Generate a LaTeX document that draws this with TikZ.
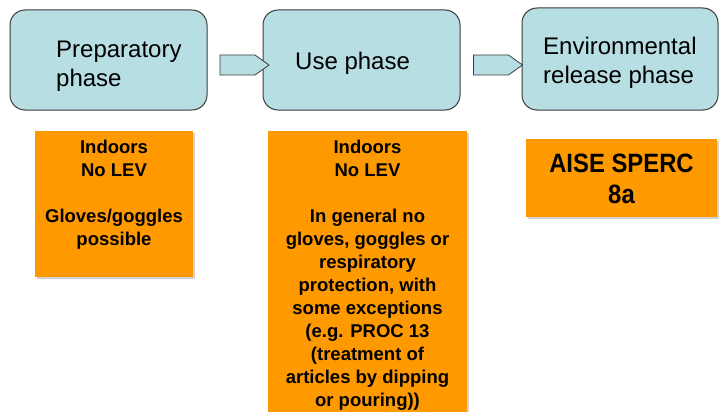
\documentclass[tikz,border=0pt]{standalone}
\usepackage{fontspec}
\setmainfont{Liberation Sans}
\newfontfamily\narrowfont[FakeStretch=0.9]{Liberation Sans}
\usetikzlibrary{positioning,shadows,shapes.arrows}
\definecolor{phaseblue}{HTML}{B7DEE3}
\definecolor{condorange}{HTML}{FF9900}
\definecolor{edgegray}{HTML}{3C3C3C}
\tikzset{%
phase/.style={draw=edgegray,line width=1pt,fill=phaseblue,rounded corners=15pt,minimum width=197pt,minimum height=100pt,inner sep=0},
phasetext/.style={align=left,inner sep=0,font=\fontsize{24}{28.5}\selectfont},
flowarrow/.style={single arrow,draw=edgegray,line width=0.8pt,fill=phaseblue,single arrow head extend=0pt,single arrow tip angle=71,minimum height=49pt,minimum width=20pt,inner sep=0},
condbox/.style={fill=condorange,inner sep=0,drop shadow={shadow xshift=2pt,shadow yshift=-2pt,opacity=0.35}},
condtext/.style={align=center,inner sep=0,font=\bfseries\fontsize{18.5}{23}\selectfont}
}

\begin{document}
\begin{tikzpicture}[x=1pt,y=1pt]
    \useasboundingbox (0,0) rectangle (720,-412);

    % phases
    \node[phase] (prep) at (108.5,-60) {};
    \node[phase] (use)  at (361.5,-60) {};
    \node[phase,minimum width=196pt,minimum height=102pt] (env) at (620,-59) {};

    \node[flowarrow] (arrow1) at (237.5,-65) {};
    \node[flowarrow] (arrow2) at (491,-65) {};

    \node[phasetext,anchor=base west] (prep-t) at (56,-86.5) {Preparatory\\phase};
    \node[phasetext,anchor=base west] (use-t)  at (295,-70) {Use phase};
    \node[phasetext,anchor=base west] (env-t)  at (543,-83.5) {Environmental\\release phase};

    % conditions
    \node[condbox,minimum width=158pt,minimum height=146pt,anchor=north] (prepcond) at (114,-131) {};
    \node[condbox,minimum width=199pt,minimum height=300pt,anchor=north] (usecond) at (367.5,-131) {};
    \node[condbox,minimum width=191pt,minimum height=78pt] (envcond) at (621.5,-178) {};

    \node[condtext,anchor=base] (prepcond-t) at (114,-245.5)
        {Indoors\\No LEV\\[23pt]Gloves/goggles\\possible};
    \node[condtext,anchor=base] (usecond-t) at (367.5,-406.5)
        {Indoors\\No LEV\\[23pt]In general no\\gloves, goggles or\\respiratory\\protection, with\\some exceptions\\(e.g. PROC 13\\(treatment of\\articles by dipping\\or pouring))};
    \node[align=center,inner sep=0,font=\narrowfont\bfseries\fontsize{26.5}{31}\selectfont,anchor=base] (envcond-t) at (621.5,-203)
        {AISE SPERC\\8a};

\end{tikzpicture}
\end{document}
